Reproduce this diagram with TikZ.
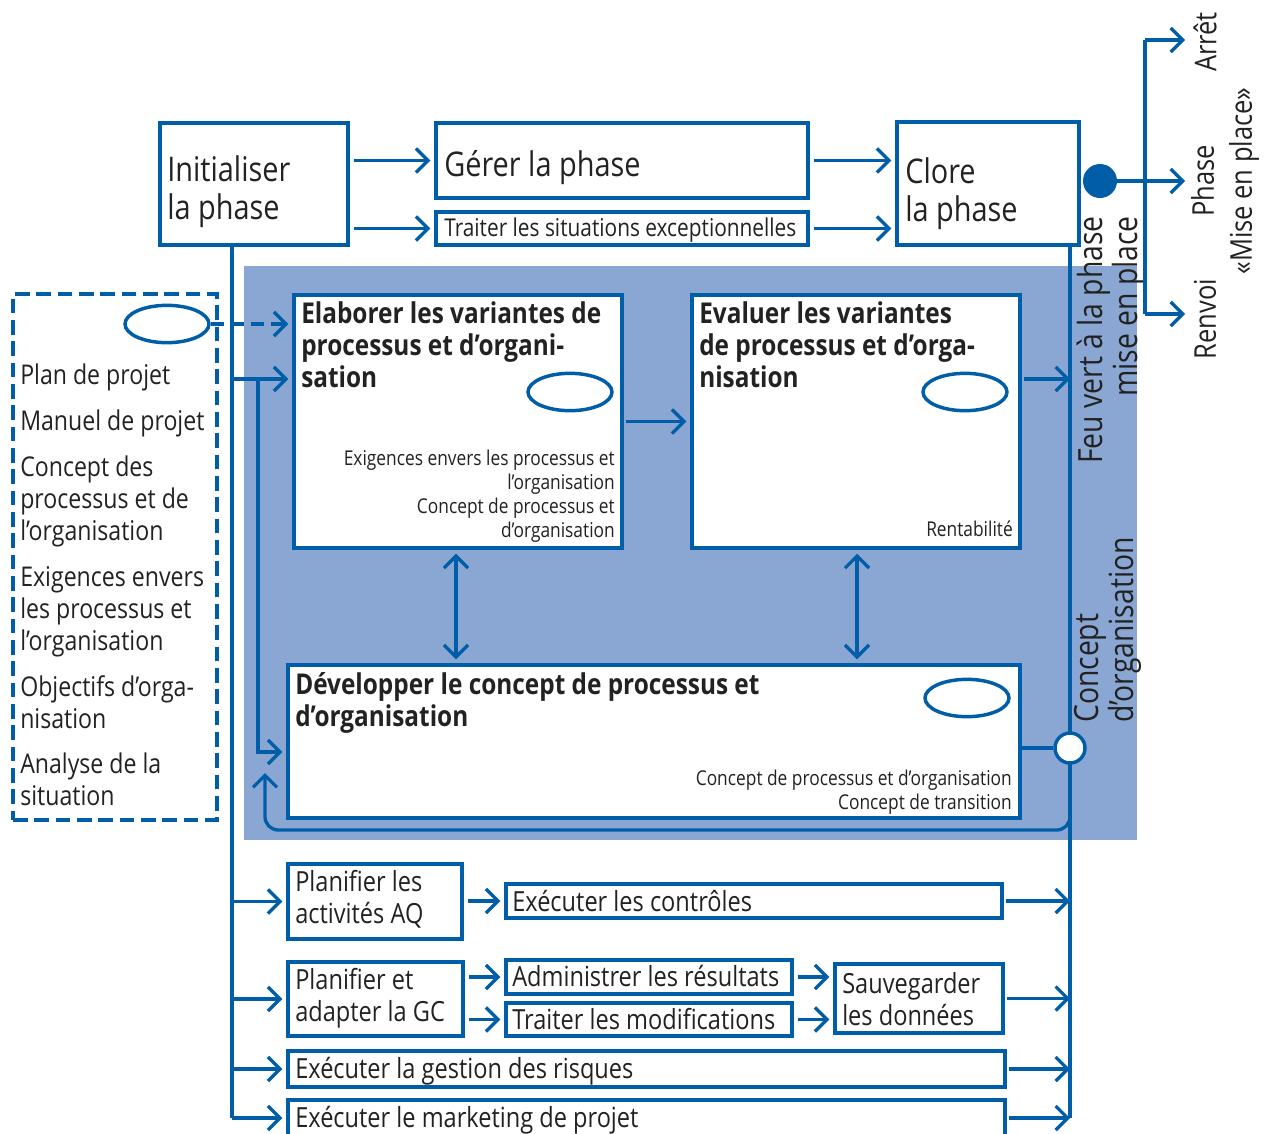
\documentclass[tikz,border=0pt]{standalone}
\usepackage{fontspec}
\setmainfont{Open Sans}[FakeStretch=0.85]
\usetikzlibrary{arrows.meta,fit,shapes.geometric,calc}
\definecolor{lb}{HTML}{005EA8}
\definecolor{pan}{HTML}{8AA7D3}
\definecolor{tc}{HTML}{222222}
\newcommand\rsBig{\fontsize{25.5pt}{28.5pt}\selectfont}
\newcommand\rsMid{\fontsize{20.8pt}{24pt}\selectfont}
\newcommand\rsIn{\fontsize{20.4pt}{24pt}\selectfont}
\newcommand\rsTit{\bfseries\fontsize{21.5pt}{24pt}\selectfont}
\newcommand\rsSm{\fontsize{15.3pt}{18pt}\selectfont}
\newcommand\rsExc{\fontsize{18.4pt}{22pt}\selectfont}
\newcommand\rsVert{\fontsize{25pt}{22.5pt}\selectfont}
\newcommand\rsSide{\fontsize{22.5pt}{28.5pt}\selectfont}
\begin{document}
\begin{tikzpicture}[x=0.75pt,y=-0.75pt,
  box/.style={draw=lb, line width=2.6pt, fill=white, inner sep=0pt},
  dbox/.style={draw=lb, line width=2.6pt, dash pattern=on 11pt off 5pt, inner sep=0pt},
  panel/.style={fill=pan, draw=none, inner sep=0pt},
  ell/.style={draw=lb, line width=2.6pt, ellipse, minimum width=63pt, minimum height=28pt, inner sep=0pt},
  txt/.style={inner sep=0pt, text=tc, anchor=north west, align=left},
  txtr/.style={inner sep=0pt, text=tc, anchor=north east, align=right},
  vlab/.style={inner sep=0pt, text=tc, rotate=90},
  con/.style={draw=lb, line width=2.5pt},
  arr/.style={con, -{Straight Barb[length=9pt,width=18pt]}},
  darr/.style={con, {Straight Barb[length=9pt,width=18pt]}-{Straight Barb[length=9pt,width=18pt]}},
  gap/.style={shorten <=3pt, shorten >=3pt},
]
\useasboundingbox (0,0) rectangle (1268,1133);
\clip (0,0) rectangle (1268,1133);

% background panel
\node[panel, fit={(244,266) (1137,840)}] (pnl) {};

% boxes
\node[box, fit={(160,123) (348,245)}] (init) {};
\node[box, fit={(436,123) (808,198)}] (ger) {};
\node[box, fit={(436,212) (808,245)}] (trx) {};
\node[box, fit={(897,122) (1079,245)}] (clore) {};
\node[dbox, fit={(13,294) (217,820)}] (inputs) {};
\node[box, fit={(294,295) (622,548)}] (elab) {};
\node[box, fit={(692,295) (1020,548)}] (eval) {};
\node[box, fit={(288,665) (1020,818)}] (dev) {};
\node[box, fit={(288,864) (462,939)}] (qa) {};
\node[box, fit={(506,884) (1002,918)}] (ctrl) {};
\node[box, fit={(288,962) (463,1036)}] (gc) {};
\node[box, fit={(506,960) (792,994)}] (adm) {};
\node[box, fit={(506,1003) (792,1036)}] (trm) {};
\node[box, fit={(835,964) (1003,1033)}] (sav) {};
\node[box, fit={(288,1051) (1005,1087)}] (risk) {};
\node[box, fit={(288,1100) (1005,1136)}] (mkt) {};

% ellipses
\node[ell] (e0) at (167,324) {};
\node[ell] (e1) at (570,392) {};
\node[ell] (e2) at (965,392) {};
\node[ell] (e3) at (967,698) {};

% filled dot
\node[circle, fill=lb, minimum size=25.5pt, inner sep=0pt] (dot) at (1100,181) {};

% texts
\node[txt, font=\rsBig] (initT) at (167,155) {Initialiser\\la phase};
\node[txt, font=\rsBig] (gerT) at (444,150) {Gérer la phase};
\node[txt, font=\rsExc] (trxT) at (444,218) {Traiter les situations exceptionnelles};
\node[txt, font=\rsBig] (cloreT) at (905,157) {Clore\\la phase};

\node[txt, font=\rsIn] (planT) at (20,364) {Plan de projet};
\node[txt, font=\rsIn] (manT) at (20,410) {Manuel de projet};
\node[txt, font=\rsIn] (concT) at (20,456) {Concept des\\processus et de\\l’organisation};
\node[txt, font=\rsIn] (exiT) at (20,566) {Exigences envers\\les processus et\\l’organisation};
\node[txt, font=\rsIn] (objT) at (20,675) {Objectifs d’orga-\\nisation};
\node[txt, font=\rsIn] (anaT) at (20,753) {Analyse de la\\situation};

\node[txt, font=\rsTit] (elabT) at (301,301) {Elaborer les variantes de\\processus et d’organi-\\sation};
\node[txtr, font=\rsSm] (elabS) at (615,450) {Exigences envers les processus et\\l’organisation\\Concept de processus et\\d’organisation};
\node[txt, font=\rsTit] (evalT) at (699,301) {Evaluer les variantes\\de processus et d’orga-\\nisation};
\node[txtr, font=\rsSm] (evalS) at (1013,521) {Rentabilité};
\node[txt, font=\rsTit] (devT) at (295,672) {Développer le concept de processus et\\d’organisation};
\node[txtr, font=\rsSm] (devS) at (1012,770) {Concept de processus et d’organisation\\Concept de transition};

\node[txt, font=\rsMid] (qaT) at (295,870) {Planifier les\\activités AQ};
\node[txt, font=\rsMid] (ctrlT) at (512,890) {Exécuter les contrôles};
\node[txt, font=\rsMid] (gcT) at (295,968) {Planifier et\\adapter la GC};
\node[txt, font=\rsMid] (admT) at (512,965) {Administrer les résultats};
\node[txt, font=\rsMid] (trmT) at (512,1008) {Traiter les modifications};
\node[txt, font=\rsMid] (savT) at (842,972) {Sauvegarder\\les données};
\node[txt, font=\rsMid] (riskT) at (295,1057) {Exécuter la gestion des risques};
\node[txt, font=\rsMid] (mktT) at (295,1106) {Exécuter le marketing de projet};

% vertical labels
\node[vlab, font=\rsVert, align=right] (feuT) at (1111,340) {Feu vert à la phase\\mise en place};
\node[vlab, font=\rsVert, align=left] (conc2T) at (1108,630) {Concept\\d’organisation};
\node[vlab, font=\rsSide] (arretT) at (1205,42) {Arrêt};
\node[vlab, font=\rsSide, align=center] (phaseT) at (1225,181) {Phase\\«Mise en place»};
\node[vlab, font=\rsSide] (renvT) at (1205,319) {Renvoi};

% helper coordinates
\coordinate (vL) at (232,1118);
\coordinate (vR) at (1070,1118);
\coordinate (j1) at (232,379);
\coordinate (j2) at (258,379);
\coordinate (devY) at (0,752);
\coordinate (retS) at (1070,790);
\coordinate (retY) at (0,830);
\coordinate (retE) at (265,773);
\coordinate (x1) at (456,0);
\coordinate (x2) at (857,0);
\coordinate (br) at (1145,181);
\coordinate (brT) at (1145,40);
\coordinate (brB) at (1145,314);
\coordinate (aA) at (1185,40);
\coordinate (aP) at (1185,181);
\coordinate (aR) at (1185,314);

% trunk lines
\draw[con] (init.south -| vL) -- (vL);
\draw[con] (clore.south -| vR) -- (vR);

% top row
\draw[arr, gap] (init.east |- ger.west) -- (ger.west);
\draw[arr, gap] (init.east |- trx.west) -- (trx.west);
\draw[arr, gap] (ger.east) -- (ger.east -| clore.west);
\draw[arr, gap] (trx.east) -- (trx.east -| clore.west);

% decision branch
\draw[con] (dot) -- (br);
\draw[con] (brT) -- (brB);
\draw[arr] (brT) -- (aA);
\draw[arr] (br) -- (aP);
\draw[arr] (brB) -- (aR);

% inputs
\draw[arr, dash pattern=on 10pt off 5pt, shorten >=3pt] (e0.east) -- (e0.east -| elab.west);
\draw[arr, shorten >=3pt] (j1) -- (j1 -| elab.west);
\draw[arr, shorten >=3pt] (j2) |- (dev.west |- devY);
\draw[arr, rounded corners=10pt] (retS) |- (retE |- retY) -- (retE);

% panel flows
\draw[arr, shorten <=2pt, shorten >=3pt] (elab.east) -- (eval.west);
\draw[arr, shorten <=2pt] (eval.east |- j1) -- (vR |- j1);
\draw[darr, gap] (elab.south -| x1) -- (dev.north -| x1);
\draw[darr, gap] (eval.south -| x2) -- (dev.north -| x2);

% bottom rows
\draw[arr, shorten >=3pt] (vL |- qa.west) -- (qa.west);
\draw[arr, gap] (qa.east |- ctrl.west) -- (ctrl.west);
\draw[arr, shorten <=2pt] (ctrl.east) -- (vR |- ctrl.east);
\draw[arr, shorten >=3pt] (vL |- gc.west) -- (gc.west);
\draw[arr, gap] (gc.east |- adm.west) -- (adm.west);
\draw[arr, gap] (gc.east |- trm.west) -- (trm.west);
\draw[arr, gap] (adm.east) -- (adm.east -| sav.west);
\draw[arr, gap] (trm.east) -- (trm.east -| sav.west);
\draw[arr, shorten <=2pt] (sav.east) -- (vR |- sav.east);
\draw[arr, shorten >=3pt] (vL |- risk.west) -- (risk.west);
\draw[arr, shorten <=2pt] (risk.east) -- (vR |- risk.east);
\draw[arr, shorten >=3pt] (vL |- mkt.west) -- (mkt.west);
\draw[arr, shorten <=2pt] (mkt.east) -- (vR |- mkt.east);

% output circle
\node[circle, draw=lb, line width=2.6pt, fill=white, minimum size=22.5pt, inner sep=0pt] (circ) at (1070,748) {};
\draw[con] (dev.east |- circ) -- (circ);
\end{tikzpicture}
\end{document}
